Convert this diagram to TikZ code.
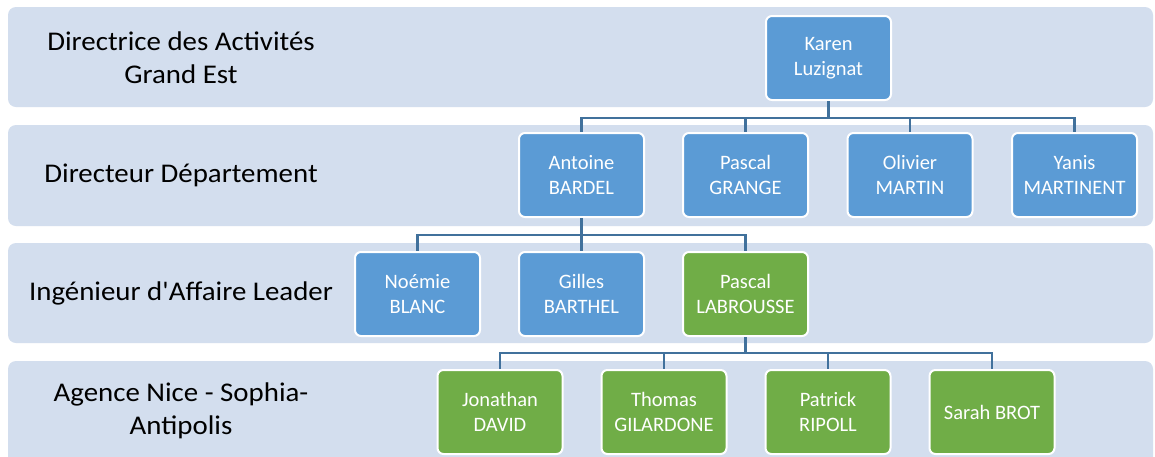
\documentclass[tikz,border=0pt]{standalone}
\usepackage{fontspec}
\setmainfont{Carlito}
\newfontfamily\boxfont{Carlito}
\newfontfamily\labfont[FakeStretch=1.07]{Carlito}
\definecolor{bandcol}{RGB}{211,222,238}
\definecolor{bluebox}{RGB}{91,155,213}
\definecolor{greenbox}{RGB}{112,173,71}
\definecolor{linkcol}{RGB}{65,113,156}
\tikzset{
  band/.style={fill=bandcol, draw=none, rounded corners=8pt},
  person/.style={draw=white, line width=2pt, rounded corners=6pt,
    minimum width=125pt, minimum height=84pt, inner sep=0pt,
    align=center, text=white,
    font=\boxfont\fontsize{20.5}{24.5}\selectfont},
  bluep/.style={person, fill=bluebox},
  greenp/.style={person, fill=greenbox},
  lab/.style={align=center, text=black, inner sep=0pt,
    font=\labfont\fontsize{27}{33}\selectfont},
  link/.style={draw=linkcol, line width=2.5pt, line join=miter}
}
\begin{document}
\begin{tikzpicture}[x=1pt,y=-1pt]
\useasboundingbox (0,0) rectangle (1155,456);
\clip (0,0) rectangle (1155,456);
\fill[white] (0,0) rectangle (1155,456);
% bands
\path[band] (8,7) rectangle (1153,107);
\path[band] (8,125) rectangle (1153,226);
\path[band] (8,243) rectangle (1153,343);
\path[band] (8,361) rectangle (1153,470);
% labels
\node[lab] (l1) at (181,58) {Directrice des Activités\\Grand Est};
\node[lab] (l2) at (181,175) {Directeur Département};
\node[lab] (l3) at (181,293) {Ingénieur d'Affaire Leader};
\node[lab] (l4) at (181,411) {Agence Nice - Sophia-\\Antipolis};
% people
\node[bluep] (karen) at (828.5,58) {Karen\\Luzignat};
\node[bluep] (antoine) at (581.5,175) {Antoine\\BARDEL};
\node[bluep] (grange) at (745.5,175) {Pascal\\GRANGE};
\node[bluep] (olivier) at (910,175) {Olivier\\MARTIN};
\node[bluep] (yanis) at (1074.5,175) {Yanis\\MARTINENT};
\node[bluep] (noemie) at (417.5,294) {Noémie\\BLANC};
\node[bluep] (gilles) at (581.5,294) {Gilles\\BARTHEL};
\node[greenp] (labrousse) at (745.5,294) {Pascal\\LABROUSSE};
\node[greenp] (jonathan) at (500,412) {Jonathan\\DAVID};
\node[greenp] (thomas) at (664,412) {Thomas\\GILARDONE};
\node[greenp] (patrick) at (828,412) {Patrick\\RIPOLL};
\node[greenp] (sarah) at (992,412) {Sarah BROT};
% connectors
\foreach \c in {antoine,grange,olivier,yanis}
  \draw[link] (karen.south) -- ++(0,17) -| (\c.north);
\foreach \c in {noemie,gilles,labrousse}
  \draw[link] (antoine.south) -- ++(0,17) -| (\c.north);
\foreach \c in {jonathan,thomas,patrick,sarah}
  \draw[link] (labrousse.south) -- ++(0,16) -| (\c.north);
\end{tikzpicture}
\end{document}
